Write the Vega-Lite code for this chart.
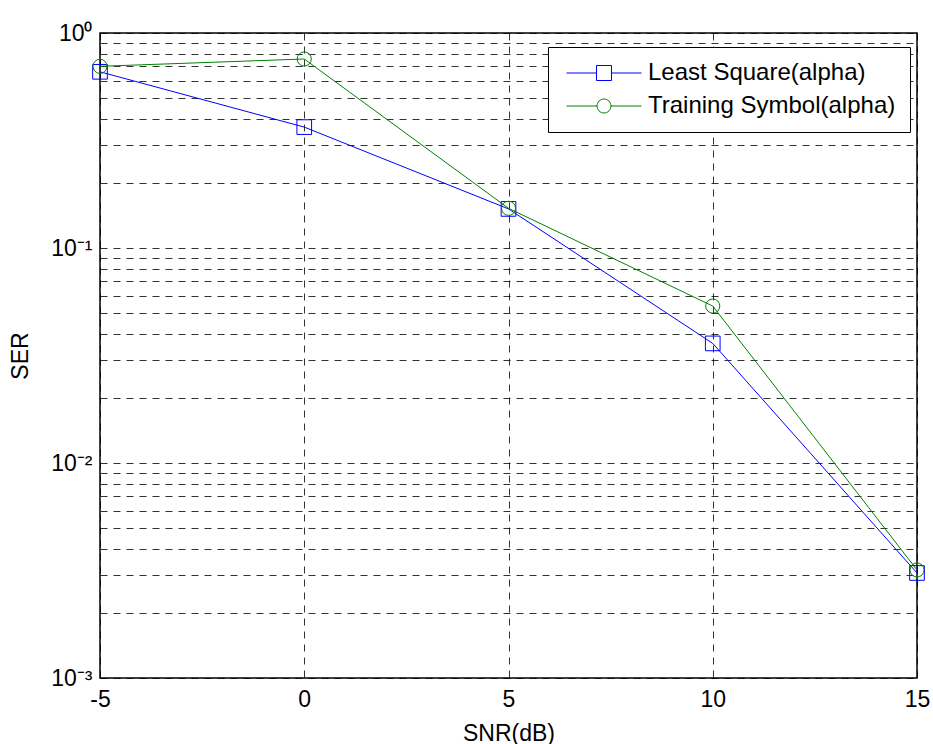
{
  "$schema": "https://vega.github.io/schema/vega-lite/v6.json",
  "width": 817,
  "height": 645,
  "autosize": {"type": "none"},
  "padding": {"left": 100, "top": 33, "right": 16, "bottom": 66},
  "background": "white",
  "config": {
    "font": "Liberation Sans",
    "view": {"stroke": "black", "strokeWidth": 1.5}
  },
  "data": {
    "values": [
      {"snr": -5, "ser": 0.66, "series": "Least Square(alpha)"},
      {"snr": 0, "ser": 0.365, "series": "Least Square(alpha)"},
      {"snr": 5, "ser": 0.152, "series": "Least Square(alpha)"},
      {"snr": 10, "ser": 0.036, "series": "Least Square(alpha)"},
      {"snr": 15, "ser": 0.00308, "series": "Least Square(alpha)"},
      {"snr": -5, "ser": 0.70, "series": "Training Symbol(alpha)"},
      {"snr": 0, "ser": 0.757, "series": "Training Symbol(alpha)"},
      {"snr": 5, "ser": 0.153, "series": "Training Symbol(alpha)"},
      {"snr": 10, "ser": 0.0537, "series": "Training Symbol(alpha)"},
      {"snr": 15, "ser": 0.00318, "series": "Training Symbol(alpha)"}
    ]
  },
  "encoding": {
    "x": {
      "field": "snr", "type": "quantitative",
      "scale": {"domain": [-5, 15], "nice": false, "zero": false},
      "axis": {
        "title": "SNR(dB)", "titleFontSize": 23, "titleFontWeight": "normal", "titlePadding": 11,
        "values": [-5, 0, 5, 10, 15], "labelExpr": "toString(datum.value)", "labelFontSize": 23, "labelPadding": 10,
        "ticks": false, "domain": false, "labelFlush": false,
        "grid": true, "gridColor": "black", "gridDash": [7, 6], "gridWidth": 1, "gridOpacity": 0.8
      }
    },
    "y": {
      "field": "ser", "type": "quantitative",
      "scale": {"type": "log", "domain": [0.001, 1], "nice": false},
      "axis": {
        "title": "SER", "titleFontSize": 23, "titleFontWeight": "normal", "titlePadding": 18,
        "values": [0.001, 0.002, 0.003, 0.004, 0.005, 0.006, 0.007, 0.008, 0.009, 0.01, 0.02, 0.03, 0.04, 0.05, 0.06, 0.07, 0.08, 0.09, 0.1, 0.2, 0.3, 0.4, 0.5, 0.6, 0.7, 0.8, 0.9, 1],
        "labelExpr": "datum.value == 1 ? '10⁰' : abs(datum.value - 0.1) < 1e-9 ? '10⁻¹' : abs(datum.value - 0.01) < 1e-10 ? '10⁻²' : abs(datum.value - 0.001) < 1e-11 ? '10⁻³' : ''",
        "labelFontSize": 23, "labelPadding": 8, "labelBaseline": "middle", "labelFlush": false,
        "ticks": false, "domain": false,
        "grid": true, "gridColor": "black", "gridDash": [7, 6], "gridWidth": 1, "gridOpacity": 0.8
      }
    },
    "color": {
      "field": "series", "type": "nominal",
      "scale": {"domain": ["Least Square(alpha)", "Training Symbol(alpha)"], "range": ["#0000ff", "#008000"]},
      "legend": {
        "title": null, "orient": "none", "legendX": 448, "legendY": 14,
        "fillColor": "white", "strokeColor": "black", "padding": 14,
        "labelFontSize": 24, "labelOffset": 62, "labelColor": "black", "labelLimit": 500,
        "symbolSize": 225, "symbolStrokeWidth": 1, "rowPadding": 9,
        "encode": {
          "symbols": {
            "update": {
              "shape": {"signal": "datum.value === 'Least Square(alpha)' ? 'M-1,0L3,0M5,0L9,0M3,-1L5,-1L5,1L3,1Z' : 'M-1,0L3.07,0M4.93,0L9,0M3.07,0A0.93,0.93,0,1,1,4.93,0A0.93,0.93,0,1,1,3.07,0'"},
              "fill": {"value": "transparent"},
              "stroke": {"signal": "datum.value === 'Least Square(alpha)' ? '#0000ff' : '#008000'"}
            }
          }
        }
      }
    }
  },
  "layer": [
    {
      "mark": {"type": "line", "strokeWidth": 1}
    },
    {
      "transform": [{"filter": "datum.series === 'Least Square(alpha)'"}],
      "mark": {"type": "point", "shape": "square", "filled": false, "size": 215, "strokeWidth": 1, "opacity": 1}
    },
    {
      "transform": [{"filter": "datum.series === 'Training Symbol(alpha)'"}],
      "mark": {"type": "point", "shape": "circle", "filled": false, "size": 200, "strokeWidth": 1, "opacity": 1}
    }
  ]
}
